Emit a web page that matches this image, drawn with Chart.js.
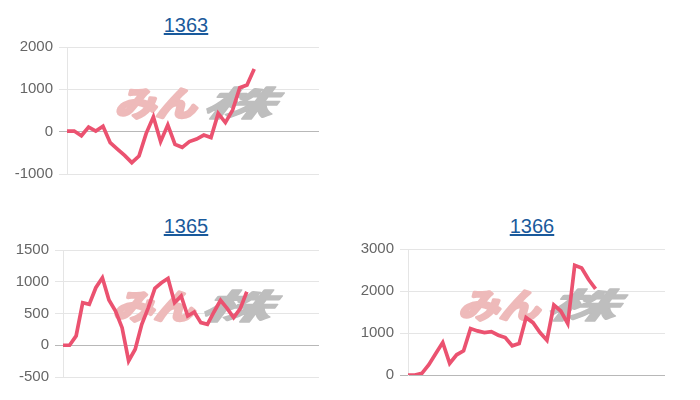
<!DOCTYPE html>
<html>
<head>
<meta charset="utf-8">
<script src="https://cdn.jsdelivr.net/npm/chart.js@4.4.0/dist/chart.umd.min.js"></script>
<style>
  body { margin: 0; background: #fff; font-family: "Liberation Sans", Arial, sans-serif; }
  .box { position: absolute; }
  .box a { position: absolute; width: 80px; text-align: center; color: #1a5a9c; font-size: 20px; text-decoration: underline; line-height: normal; }
  .box canvas { position: absolute; left: 0; }
</style>
</head>
<body>
<div class="box" style="left:0;top:0;width:340px;height:200px;">
  <a href="#" style="top:14px;left:146px;">1363</a>
  <canvas id="c1363" style="top:32px;"></canvas>
</div>
<div class="box" style="left:0;top:202px;width:340px;height:198px;">
  <a href="#" style="top:13px;left:146px;">1365</a>
  <canvas id="c1365" style="top:33px;"></canvas>
</div>
<div class="box" style="left:340px;top:202px;width:360px;height:198px;">
  <a href="#" style="top:13px;left:152px;">1366</a>
  <canvas id="c1366" style="top:32px;"></canvas>
</div>
<script>
// values, one point per trading day
const values1363 = [15, 15, -95, 110, 15, 130, -260, -410, -560, -730, -575, -40, 350, -235, 160,
  -300, -370, -235, -175, -80, -140, 430, 215, 510, 1040, 1100, 1480];
const values1365 = [0, 0, 147, 670, 644, 906, 1063, 712, 540, 277, -246, -63, 330, 592, 895,
  984, 1052, 670, 775, 461, 524, 356, 330, 524, 707, 581, 435, 576, 843];
const values1366 = [0, 0, 40, 245, 513, 773, 276, 481, 576, 1105, 1050, 1010, 1034, 947, 892,
  695, 750, 1366, 1247, 1010, 829, 1666, 1523, 1223, 2612, 2549, 2273, 2052];

// slots on the x axis (hidden), more than the data so the line stops early
const slots1363 = 36;
const slots1365 = 40;
const slots1366 = 38;

const ticks1363 = { min: -1000, max: 2000, step: 1000 };
const ticks1365 = { min: -500, max: 1500, step: 500 };
const ticks1366 = { min: 0, max: 3000, step: 1000 };

const lineColor = 'rgb(235, 82, 112)';

// the site logo printed behind the plot
const watermark = {
  id: 'watermark',
  beforeDatasetsDraw(chart) {
    const { ctx, chartArea } = chart;
    const cx = (chartArea.left + chartArea.right) / 2 + 6;
    const cy = (chartArea.top + chartArea.bottom) / 2 - 7;
    ctx.save();
    ctx.textBaseline = 'middle';
    ctx.font = 'italic bold 34px "Noto Sans CJK JP"';
    ctx.lineJoin = 'round';
    ctx.translate(cx - 3, cy);
    ctx.save();
    ctx.scale(1.2, 1);
    ctx.lineWidth = 3;
    ctx.fillStyle = ctx.strokeStyle = 'rgb(238, 186, 186)';
    ctx.textAlign = 'right';
    ctx.strokeText('みん', 0, 0);
    ctx.fillText('みん', 0, 0);
    ctx.restore();
    ctx.translate(8, 0);
    ctx.transform(2.05, 0, -0.25, 1, 0, 0);
    ctx.textAlign = 'left';
    ctx.lineWidth = 1.5;
    ctx.fillStyle = ctx.strokeStyle = 'rgb(190, 190, 190)';
    ctx.strokeText('株', 0, 0);
    ctx.fillText('株', 0, 0);
    ctx.restore();
  }
};

function makeChart(id, values, slots, t, w, h, axisWidth) {
  const canvas = document.getElementById(id);
  canvas.width = w; canvas.height = h;
  canvas.style.width = w + 'px'; canvas.style.height = h + 'px';
  const labels = Array.from({ length: slots }, (_, i) => i + 1);
  return new Chart(canvas, {
    type: 'line',
    data: {
      labels: labels,
      datasets: [{
        data: values,
        borderColor: lineColor,
        borderWidth: 3.7,
        pointRadius: 0,
        tension: 0,
        fill: false
      }]
    },
    options: {
      responsive: false,
      animation: false,
      maintainAspectRatio: false,
      layout: { padding: { left: 0, right: 11, top: 0, bottom: 0 } },
      plugins: { legend: { display: false }, tooltip: { enabled: false } },
      scales: {
        x: {
          ticks: { display: false },
          grid: { display: false },
          border: { display: false }
        },
        y: {
          min: t.min,
          max: t.max,
          afterFit: (s) => { s.width = axisWidth; },
          ticks: {
            stepSize: t.step,
            color: '#666',
            padding: 6,
            font: { family: '"Liberation Sans", Arial, sans-serif', size: 15 },
            callback: (v) => String(v)
          },
          grid: {
            color: (c) => c.tick && c.tick.value === 0 ? 'rgba(0,0,0,0.28)' : 'rgba(0,0,0,0.1)',
            tickLength: 8
          },
          border: { color: 'rgba(0,0,0,0.1)' }
        }
      }
    },
    plugins: [watermark]
  });
}

makeChart('c1363', values1363, slots1363, ticks1363, 330, 157, 67);
makeChart('c1365', values1365, slots1365, ticks1365, 330, 157, 63);
makeChart('c1366', values1366, slots1366, ticks1366, 336, 156, 68);
</script>
</body>
</html>
